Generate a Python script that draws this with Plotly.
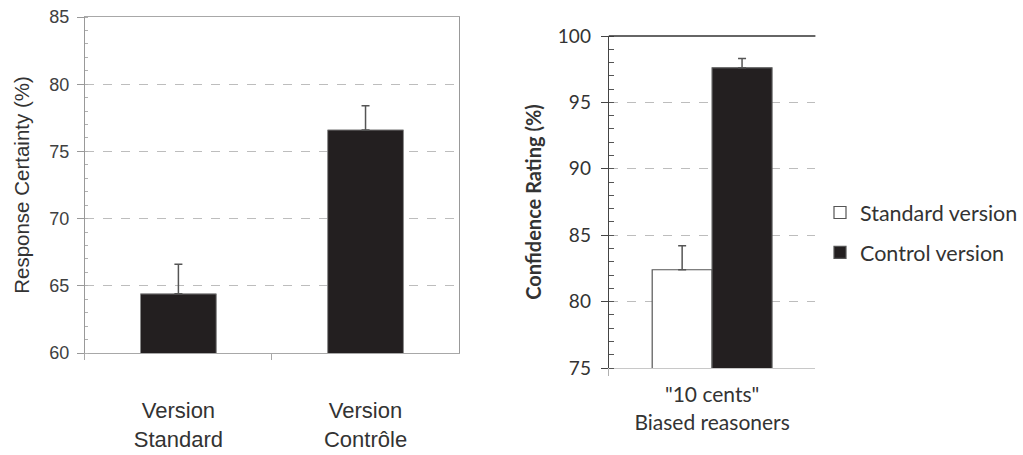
import plotly.graph_objects as go

# Left panel: response certainty by version
left_categories = ["Version<br>Standard", "Version<br>Contrôle"]
left_values = [64.4, 76.6]
left_errors = [2.2, 1.8]
left_ticks = [60, 65, 70, 75, 80, 85]

# Right panel: confidence rating of biased reasoners
right_category = ['"10 cents"<br>Biased reasoners']
right_series = ["Standard version", "Control version"]
right_values = [82.4, 97.6]
right_errors = [1.8, 0.7]
right_ticks = [75, 80, 85, 90, 95, 100]

W, H = 1023, 455
BAR_DARK = "#231f20"
TXT = "#333333"
LEFT_FONT = "Liberation Sans"
RIGHT_FONT = "Lato"


def px_x(v):
    return v / W


def px_y(v):
    return 1 - v / H


fig = go.Figure()

fig.add_trace(go.Bar(
    x=left_categories, y=left_values, width=0.405,
    marker=dict(color=BAR_DARK, line=dict(color="#8a8a8a", width=1)),
    error_y=dict(type="data", symmetric=False, array=left_errors,
                 arrayminus=[0] * len(left_errors),
                 color="#555555", thickness=1.5, width=4),
    showlegend=False, xaxis="x", yaxis="y",
))

right_fill = ["white", BAR_DARK]
for name, val, err, fill in zip(right_series, right_values, right_errors, right_fill):
    fig.add_trace(go.Bar(
        x=right_category, y=[val], name=name, legendgroup=name,
        marker=dict(color=fill, line=dict(color="#555555", width=1.2)),
        error_y=dict(type="data", symmetric=False, array=[err], arrayminus=[0],
                     color="#555555", thickness=1.5, width=4),
        xaxis="x2", yaxis="y2",
    ))

grid = dict(showgrid=True, gridcolor="#bdbdbd", griddash="dash", gridwidth=1)

fig.update_layout(
    width=W, height=H, autosize=False,
    margin=dict(l=0, r=0, t=0, b=0),
    paper_bgcolor="white", plot_bgcolor="white",
    barmode="group", bargap=0.42, bargroupgap=0,
    xaxis=dict(
        domain=[px_x(85), px_x(460)], anchor="y", automargin=False,
        showline=True, linecolor="#a8a8a8", linewidth=1, mirror=True,
        ticks="outside", tickson="boundaries", ticklen=6, tickcolor="#a8a8a8",
        ticklabelstandoff=38,
        tickfont=dict(family=LEFT_FONT, size=22, color=TXT),
        showgrid=False,
    ),
    yaxis=dict(
        domain=[px_y(353), px_y(17)], anchor="x", automargin=False,
        range=[60, 85], tickvals=left_ticks,
        showline=True, linecolor="#999999", linewidth=1, mirror=True,
        ticks="outside", ticklen=7, tickcolor="#999999",
        minor=dict(dtick=1, ticks="inside", ticklen=3, tickcolor="#b0b0b0", showgrid=False),
        ticklabelstandoff=4,
        tickfont=dict(family=LEFT_FONT, size=18, color="#404040"),
        title=dict(text="Response Certainty (%)", standoff=14,
                   font=dict(family=LEFT_FONT, size=20.5, color=TXT)),
        zeroline=False, **grid,
    ),
    xaxis2=dict(
        domain=[px_x(610), px_x(817)], anchor="y2", automargin=False,
        showline=True, linecolor="#c8c8c8", linewidth=1,
        ticks="outside", tickson="boundaries", ticklen=7, tickcolor="#b0b0b0",
        ticklabelstandoff=8,
        tickfont=dict(family=RIGHT_FONT, size=21, color=TXT),
        showgrid=False,
    ),
    yaxis2=dict(
        domain=[px_y(368), px_y(36)], anchor="x2", automargin=False,
        range=[75, 100], tickvals=right_ticks,
        showline=True, linecolor="#444444", linewidth=1.2,
        ticks="outside", ticklen=7, tickcolor="#444444",
        minor=dict(dtick=1, ticks="inside", ticklen=5, tickcolor="#555555", showgrid=False),
        ticklabelstandoff=6,
        tickfont=dict(family=RIGHT_FONT, size=19, color=TXT),
        title=dict(text="<b>Confidence Rating (%)</b>", standoff=10,
                   font=dict(family=RIGHT_FONT, size=20, color=TXT)),
        zeroline=False, **grid,
    ),
    legend=dict(
        x=px_x(822), xanchor="left", y=px_y(192), yanchor="top",
        font=dict(family=RIGHT_FONT, size=21.5, color=TXT),
        tracegroupgap=9, itemwidth=30, bgcolor="rgba(0,0,0,0)",
    ),
    shapes=[dict(type="line", xref="x2 domain", yref="y2 domain",
                 x0=0, x1=1, y0=1, y1=1,
                 line=dict(color="#333333", width=1.5))],
)

fig.write_html("out.html")
